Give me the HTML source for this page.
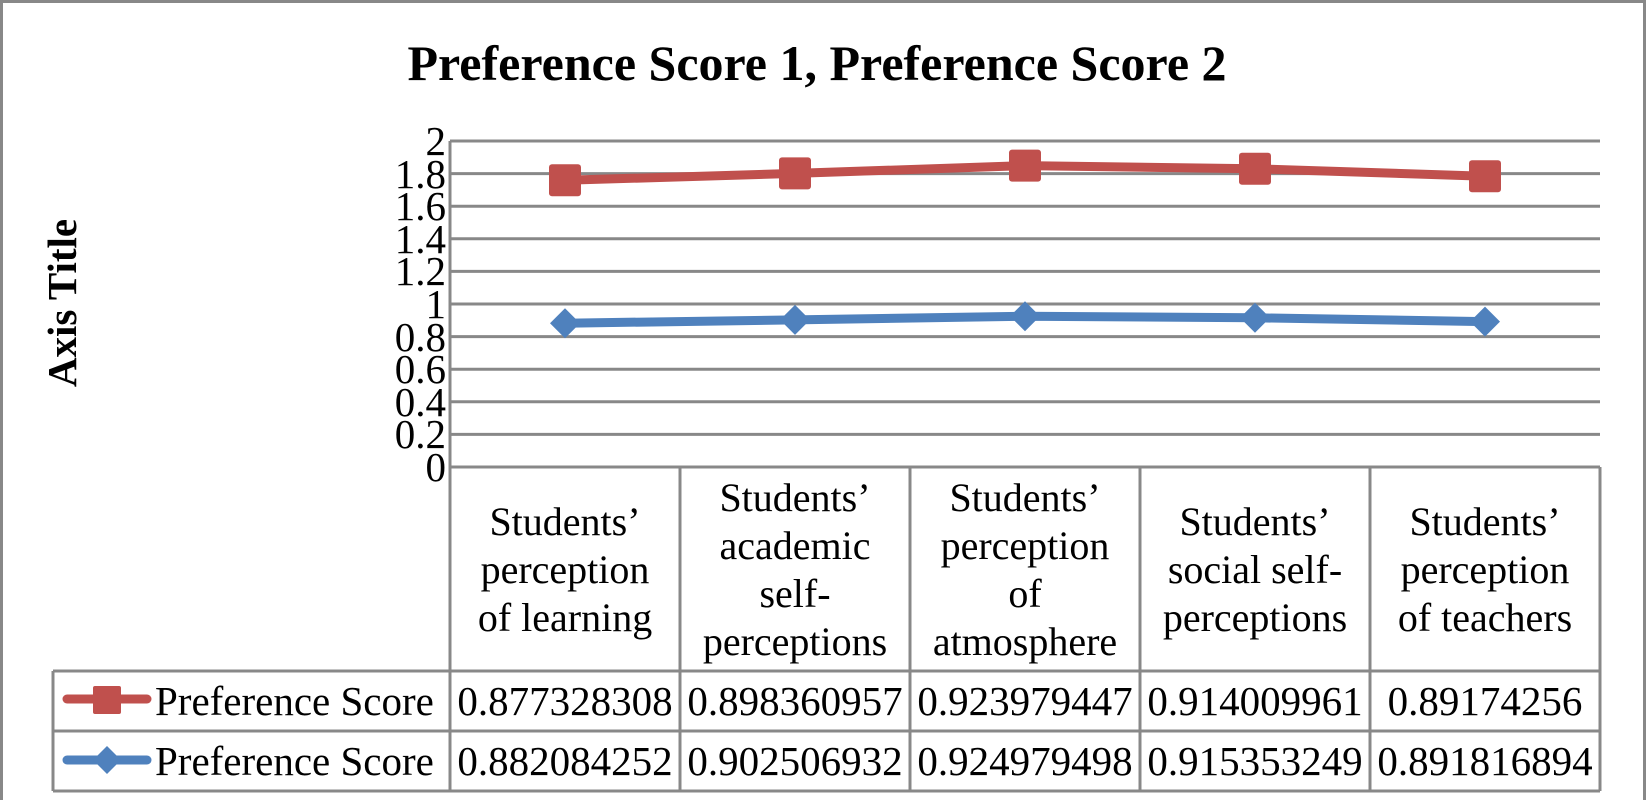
<!DOCTYPE html>
<html><head><meta charset="utf-8"><style>
html,body{margin:0;padding:0;background:#fff;}
svg{display:block;}
text{font-family:"Liberation Serif",serif;fill:#000;}
</style></head><body>
<svg width="1652" height="800" viewBox="0 0 1652 800" xmlns="http://www.w3.org/2000/svg">
<rect x="1.5" y="1.5" width="1643" height="820" fill="none" stroke="#888" stroke-width="3"/>
<text x="817" y="80" font-size="50" font-weight="bold" text-anchor="middle">Preference Score 1, Preference Score 2</text>
<text transform="translate(76,303) rotate(-90)" font-size="41" font-weight="bold" text-anchor="middle">Axis Title</text>
<g stroke="#888" stroke-width="3">
<line x1="450" y1="141" x2="1600" y2="141"/>
<line x1="450" y1="173.6" x2="1600" y2="173.6"/>
<line x1="450" y1="206.2" x2="1600" y2="206.2"/>
<line x1="450" y1="238.8" x2="1600" y2="238.8"/>
<line x1="450" y1="271.4" x2="1600" y2="271.4"/>
<line x1="450" y1="304" x2="1600" y2="304"/>
<line x1="450" y1="336.6" x2="1600" y2="336.6"/>
<line x1="450" y1="369.2" x2="1600" y2="369.2"/>
<line x1="450" y1="401.8" x2="1600" y2="401.8"/>
<line x1="450" y1="434.4" x2="1600" y2="434.4"/>
<line x1="450" y1="467" x2="1600" y2="467"/>
<line x1="450" y1="141" x2="450" y2="791"/>
<line x1="680" y1="467" x2="680" y2="791"/>
<line x1="910" y1="467" x2="910" y2="791"/>
<line x1="1140" y1="467" x2="1140" y2="791"/>
<line x1="1370" y1="467" x2="1370" y2="791"/>
<line x1="1600" y1="467" x2="1600" y2="791"/>
<line x1="53" y1="671" x2="1600" y2="671"/>
<line x1="53" y1="731" x2="1600" y2="731"/>
<line x1="53" y1="791" x2="1600" y2="791"/>
<line x1="53" y1="671" x2="53" y2="791"/>
</g>
<g font-size="41" text-anchor="end">
<text x="446" y="155">2</text>
<text x="446" y="188">1.8</text>
<text x="446" y="220">1.6</text>
<text x="446" y="253">1.4</text>
<text x="446" y="285">1.2</text>
<text x="446" y="318">1</text>
<text x="446" y="351">0.8</text>
<text x="446" y="383">0.6</text>
<text x="446" y="416">0.4</text>
<text x="446" y="448">0.2</text>
<text x="446" y="481">0</text>
</g>
<polyline points="565,180.3 795,173.4 1025,165.6 1255,168.8 1485,176.2" fill="none" stroke="#C0504D" stroke-width="9" stroke-linejoin="round"/>
<g fill="#C0504D">
<rect x="549" y="164.3" width="32" height="32" rx="3"/>
<rect x="779" y="157.4" width="32" height="32" rx="3"/>
<rect x="1009" y="149.6" width="32" height="32" rx="3"/>
<rect x="1239" y="152.8" width="32" height="32" rx="3"/>
<rect x="1469" y="160.2" width="32" height="32" rx="3"/>
</g>
<polyline points="565,323.2 795,319.9 1025,316.2 1255,317.8 1485,321.6" fill="none" stroke="#4F81BD" stroke-width="9" stroke-linejoin="round"/>
<g fill="#4F81BD">
<polygon points="565,308.2 580,323.2 565,338.2 550,323.2"/>
<polygon points="795,304.9 810,319.9 795,334.9 780,319.9"/>
<polygon points="1025,301.2 1040,316.2 1025,331.2 1010,316.2"/>
<polygon points="1255,302.8 1270,317.8 1255,332.8 1240,317.8"/>
<polygon points="1485,306.6 1500,321.6 1485,336.6 1470,321.6"/>
</g>
<g font-size="40" text-anchor="middle">
<text x="565" y="535">Students’</text><text x="565" y="583">perception</text><text x="565" y="631">of learning</text>
<text x="795" y="511">Students’</text><text x="795" y="559">academic</text><text x="795" y="607">self-</text><text x="795" y="655">perceptions</text>
<text x="1025" y="511">Students’</text><text x="1025" y="559">perception</text><text x="1025" y="607">of</text><text x="1025" y="655">atmosphere</text>
<text x="1255" y="535">Students’</text><text x="1255" y="583">social self-</text><text x="1255" y="631">perceptions</text>
<text x="1485" y="535">Students’</text><text x="1485" y="583">perception</text><text x="1485" y="631">of teachers</text>
</g>
<g font-size="41" text-anchor="middle">
<text x="565" y="715">0.877328308</text><text x="795" y="715">0.898360957</text><text x="1025" y="715">0.923979447</text><text x="1255" y="715">0.914009961</text><text x="1485" y="715">0.89174256</text>
<text x="565" y="775">0.882084252</text><text x="795" y="775">0.902506932</text><text x="1025" y="775">0.924979498</text><text x="1255" y="775">0.915353249</text><text x="1485" y="775">0.891816894</text>
</g>
<line x1="67" y1="699" x2="147" y2="699" stroke="#C0504D" stroke-width="9" stroke-linecap="round"/>
<rect x="93" y="686" width="28" height="28" rx="2" fill="#C0504D"/>
<line x1="67" y1="760" x2="147" y2="760" stroke="#4F81BD" stroke-width="9" stroke-linecap="round"/>
<polygon points="107,746 121,760 107,774 93,760" fill="#4F81BD"/>
<g font-size="41">
<text x="155" y="715">Preference Score</text>
<text x="155" y="775">Preference Score</text>
</g>
</svg>
</body></html>
